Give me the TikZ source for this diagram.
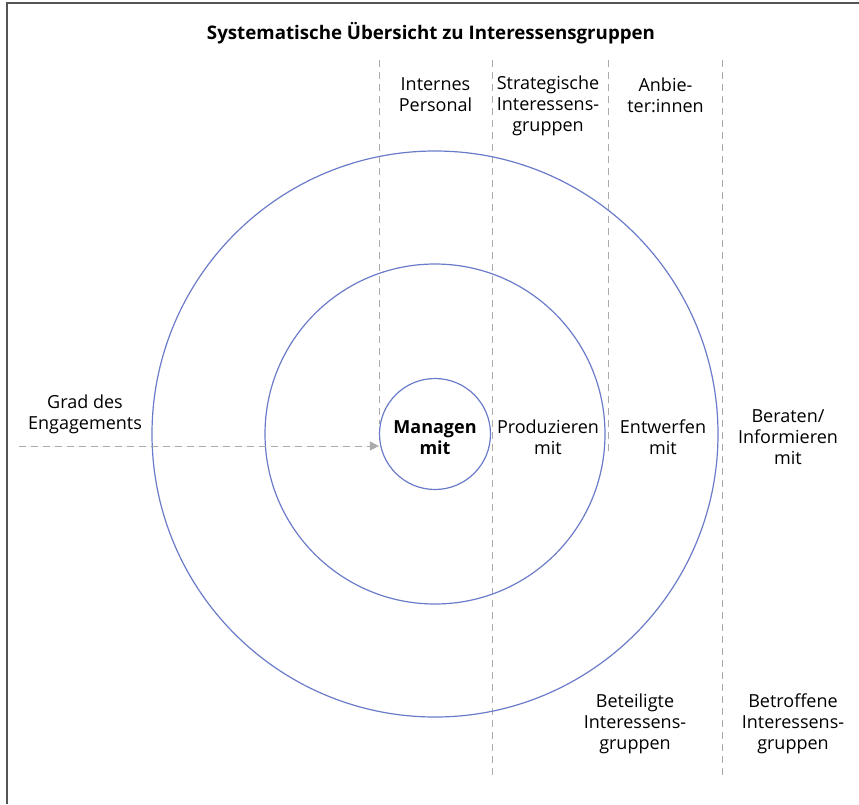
\documentclass[tikz,border=0pt]{standalone}
\usepackage{fontspec}
\setmainfont{Open Sans}
\usetikzlibrary{arrows.meta}
\definecolor{ringblue}{HTML}{6A7BC9}
\definecolor{dashgray}{HTML}{ABABAB}
\definecolor{framegray}{HTML}{555555}
\begin{document}
\begin{tikzpicture}[x=1pt,y=-1pt,
        ring/.style={circle,draw=ringblue,line width=1.2pt,inner sep=0pt},
        lbl/.style={align=center,inner sep=0pt,font=\fontsize{18}{21}\selectfont},
        boldlbl/.style={lbl,font=\fontsize{18}{21}\selectfont\bfseries},
        divider/.style={draw=dashgray,line width=1pt,dash pattern=on 7pt off 5pt},
        flow/.style={divider,-{Triangle[length=9pt,width=9pt]},fill=dashgray}]
    \useasboundingbox (0,0) rectangle (859,804);
    \draw[framegray,line width=2pt] (6.5,804) -- (6.5,2.5) -- (859,2.5);
    \node[boldlbl,font=\fontsize{18.7}{21}\selectfont\bfseries] (title) at (431,33) {Systematische Übersicht zu Interessensgruppen};
    \foreach \x/\yend in {379/424,492.5/778,608.5/453,722/778}
        \draw[divider] (\x,60) -- (\x,\yend);
    \node[ring,minimum size=566pt] (outer) at (435,434) {};
    \node[ring,minimum size=340pt] (middle) at (435,434) {};
    \node[ring,minimum size=111pt] (core) at (435,434) {};
    \node[boldlbl] (coretext) at (435,438) {Managen\\mit};
    \node[lbl] (internal) at (435.5,95) {Internes\\Personal};
    \node[lbl] (strategic) at (548,106) {Strategische\\Interessens-\\gruppen};
    \node[lbl] (vendors) at (665.5,95) {Anbie-\\ter:innen};
    \node[lbl] (degree) at (85,414) {Grad des\\Engagements};
    \node[lbl] (produce) at (548,437) {Produzieren\\mit};
    \node[lbl] (design) at (663,437) {Entwerfen\\mit};
    \node[lbl] (advise) at (788,437) {Beraten/\\Informieren\\mit};
    \node[lbl] (involved) at (635,724) {Beteiligte\\Interessens-\\gruppen};
    \node[lbl] (affected) at (793,724) {Betroffene\\Interessens-\\gruppen};
    \coordinate (engstart) at (19,446);
    \draw[flow] (engstart) -- (engstart -| core.west);
\end{tikzpicture}
\end{document}
